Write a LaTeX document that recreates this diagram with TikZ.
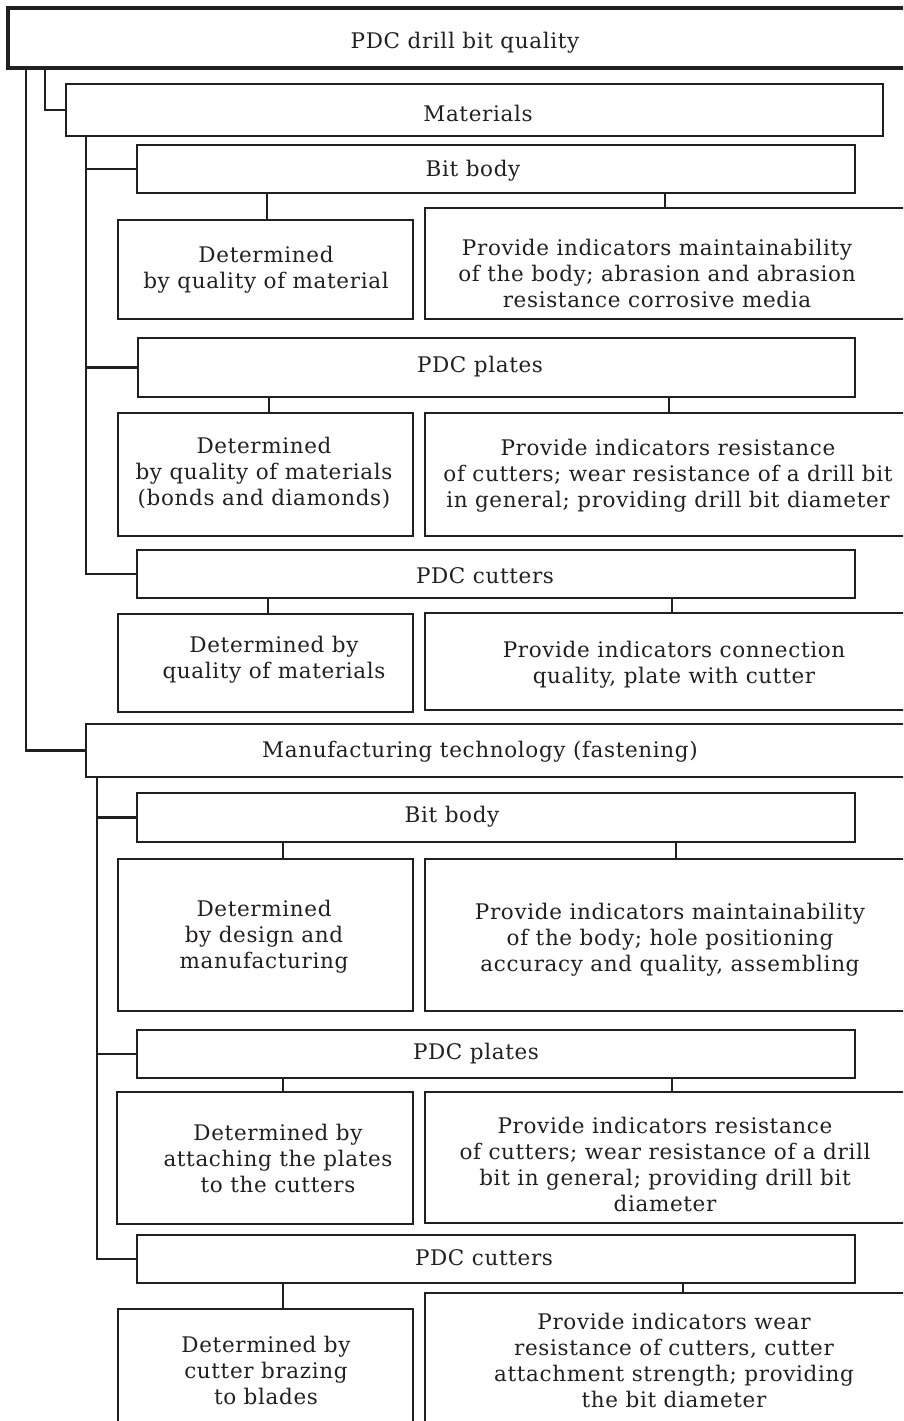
\documentclass[tikz,border=0pt]{standalone}
\usepackage{fontspec}
\setmainfont{DejaVu Serif}[LetterSpace=3]
\definecolor{ink}{HTML}{231F20}
\newcommand\mkbox[6][box]{\node[#1, minimum width=#5pt-#3pt, minimum height=#6pt-#4pt] (#2) at ({(#3+#5)/2},{(#4+#6)/2}) {};}
\begin{document}
\begin{tikzpicture}[x=1pt,y=-1pt,
  box/.style={draw=ink, line width=2.5pt, inner sep=0pt, rectangle},
  topbox/.style={box, line width=3.6pt},
  lbl/.style={align=center, inner sep=0pt, text=ink, font=\fontsize{21.5}{26}\selectfont},
  link/.style={draw=ink, line width=2.5pt}]
\useasboundingbox (0,0) rectangle (903,1421);
\clip (0,0) rectangle (903,1421);
% boxes
\mkbox[topbox]{top}{8}{8}{930}{68}
\mkbox{mat}{66}{84}{883}{136}
\mkbox{bb1}{137}{145}{855}{193}
\mkbox{L1}{118}{220}{413}{319}
\mkbox{R1}{425}{208}{940}{319}
\mkbox{pp1}{138}{338}{855}{397}
\mkbox{L2}{118}{413}{413}{536}
\mkbox{R2}{425}{413}{940}{536}
\mkbox{pc1}{137}{550}{855}{598}
\mkbox{L3}{118}{614}{413}{712}
\mkbox{R3}{425}{613}{940}{710}
\mkbox{man}{86}{724}{940}{777}
\mkbox{bb2}{137}{793}{855}{842}
\mkbox{L4}{118}{859}{413}{1011}
\mkbox{R4}{425}{859}{940}{1011}
\mkbox{pp2}{137}{1030}{855}{1078}
\mkbox{L5}{117}{1092}{413}{1224}
\mkbox{R5}{425}{1092}{940}{1223}
\mkbox{pc2}{137}{1235}{855}{1283}
\mkbox{L6}{118}{1309}{413}{1460}
\mkbox{R6}{425}{1293}{940}{1460}
% labels
\node[lbl] (tTop) at (465,43) {PDC drill bit quality};
\node[lbl] (tMat) at (478,113) {Materials};
\node[lbl] (tBb1) at (473,171) {Bit body};
\node[lbl] (tL1) at (266,270) {Determined\\by quality of material};
\node[lbl] (tR1) at (657,273) {Provide indicators maintainability\\of the body; abrasion and abrasion\\resistance corrosive media};
\node[lbl] (tPp1) at (480,367) {PDC plates};
\node[lbl] (tL2) at (264,473) {Determined\\by quality of materials\\(bonds and diamonds)};
\node[lbl] (tR2) at (668,476) {Provide indicators resistance\\of cutters; wear resistance of a drill bit\\in general; providing drill bit diameter};
\node[lbl] (tPc1) at (485,576) {PDC cutters};
\node[lbl] (tL3) at (274,660) {Determined by\\quality of materials};
\node[lbl] (tR3) at (674,665) {Provide indicators connection\\quality, plate with cutter};
\node[lbl] (tMan) at (480,752) {Manufacturing technology (fastening)};
\node[lbl] (tBb2) at (452,817) {Bit body};
\node[lbl] (tL4) at (264,937) {Determined\\by design and\\manufacturing};
\node[lbl] (tR4) at (670,940) {Provide indicators maintainability\\of the body; hole positioning\\accuracy and quality, assembling};
\node[lbl] (tPp2) at (476,1054) {PDC plates};
\node[lbl] (tL5) at (278,1158) {Determined by\\attaching the plates\\to the cutters};
\node[lbl] (tR5) at (665,1164) {Provide indicators resistance\\of cutters; wear resistance of a drill\\bit in general; providing drill bit\\diameter};
\node[lbl] (tPc2) at (484,1258) {PDC cutters};
\node[lbl] (tL6) at (266,1370) {Determined by\\cutter brazing\\to blades};
\node[lbl] (tR6) at (674,1360) {Provide indicators wear\\resistance of cutters, cutter\\attachment strength; providing\\the bit diameter};
% spine coordinates
\coordinate (s1) at (26,0);
\coordinate (s2) at (45,0);
\coordinate (s3) at (86,0);
\coordinate (s4) at (97,0);
\coordinate (a1) at (267,0); \coordinate (b1) at (665,0);
\coordinate (a2) at (269,0); \coordinate (b2) at (669,0);
\coordinate (a3) at (268,0); \coordinate (b3) at (672,0);
\coordinate (a4) at (283,0); \coordinate (b4) at (676,0);
\coordinate (a5) at (283,0); \coordinate (b5) at (672,0);
\coordinate (a6) at (283,0); \coordinate (b6) at (683,0);
% connectors
\draw[link] (s1 |- top.south) |- (man.west);
\draw[link] (s2 |- top.south) |- (mat.west);
\draw[link] (s3 |- mat.south) |- (bb1.west);
\draw[link] (s3 |- mat.south) |- (pp1.west);
\draw[link] (s3 |- mat.south) |- (pc1.west);
\draw[link] (s4 |- man.south) |- (bb2.west);
\draw[link] (s4 |- man.south) |- (pp2.west);
\draw[link] (s4 |- man.south) |- (pc2.west);
\draw[link] (a1 |- bb1.south) -- (a1 |- L1.north);
\draw[link] (b1 |- bb1.south) -- (b1 |- R1.north);
\draw[link] (a2 |- pp1.south) -- (a2 |- L2.north);
\draw[link] (b2 |- pp1.south) -- (b2 |- R2.north);
\draw[link] (a3 |- pc1.south) -- (a3 |- L3.north);
\draw[link] (b3 |- pc1.south) -- (b3 |- R3.north);
\draw[link] (a4 |- bb2.south) -- (a4 |- L4.north);
\draw[link] (b4 |- bb2.south) -- (b4 |- R4.north);
\draw[link] (a5 |- pp2.south) -- (a5 |- L5.north);
\draw[link] (b5 |- pp2.south) -- (b5 |- R5.north);
\draw[link] (a6 |- pc2.south) -- (a6 |- L6.north);
\draw[link] (b6 |- pc2.south) -- (b6 |- R6.north);
\end{tikzpicture}
\end{document}
